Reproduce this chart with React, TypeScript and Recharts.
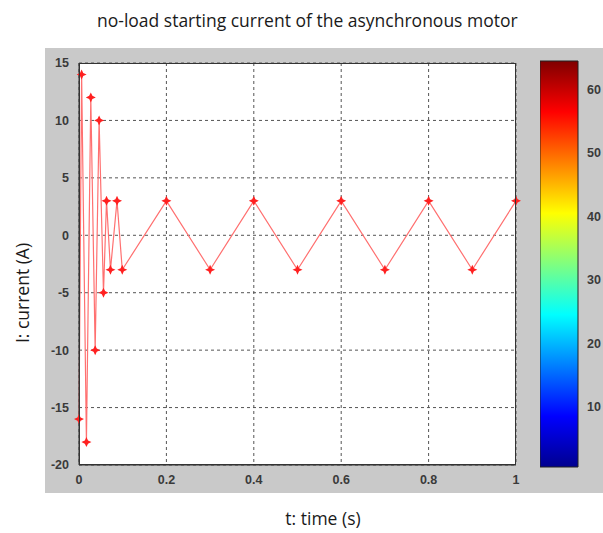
import { LineChart, Line, XAxis, YAxis, CartesianGrid, BarChart, Bar } from 'recharts'

const timeValues = [0, 0.006, 0.017, 0.027, 0.037, 0.046, 0.056, 0.063, 0.072, 0.087, 0.099, 0.2, 0.3, 0.4, 0.5, 0.6, 0.7, 0.8, 0.9, 1.0]
const currentValues = [-16, 14, -18, 12, -10, 10, -5, 3, -3, 3, -3, 3, -3, 3, -3, 3, -3, 3, -3, 3]
const xTicks = [0, 0.2, 0.4, 0.6, 0.8, 1]
const yTicks = [-20, -15, -10, -5, 0, 5, 10, 15]
const colorTicks = [10, 20, 30, 40, 50, 60]
const colorRange = [0.5, 64.5]

const data = timeValues.map((t, i) => ({ t, current: currentValues[i] }))
const colorData = [{ name: 'jet', top: colorRange[1] }]

const tickStyle = { fontSize: 12.5, fontWeight: 'bold', fill: '#3a3a3a', fontFamily: 'Liberation Sans, Arial' }
const hiddenTick = { fontSize: 1, fill: 'transparent' }

const StarDot = (props: any) => {
  const { cx, cy, index } = props
  if (cx == null || cy == null) return null
  const s = 5
  const w = 1.6
  return (
    <path
      key={`dot-${index}`}
      d={`M${cx},${cy - s} L${cx + w},${cy - w} L${cx + s},${cy} L${cx + w},${cy + w} L${cx},${cy + s} L${cx - w},${cy + w} L${cx - s},${cy} L${cx - w},${cy - w} Z`}
      fill="#ff2020"
    />
  )
}

const App = () => {
  return (
    <div style={{ position: 'absolute', left: 0, top: 0, width: 603, height: 533, background: '#fff', fontFamily: 'Open Sans, sans-serif' }}>
      <svg width="0" height="0" style={{ position: 'absolute' }}>
        <defs>
          <linearGradient id="jet" x1="0" y1="1" x2="0" y2="0">
            <stop offset="0%" stopColor="#00008f" />
            <stop offset="12.5%" stopColor="#0000ff" />
            <stop offset="37.5%" stopColor="#00ffff" />
            <stop offset="62.5%" stopColor="#ffff00" />
            <stop offset="87.5%" stopColor="#ff0000" />
            <stop offset="100%" stopColor="#800000" />
          </linearGradient>
        </defs>
      </svg>

      <div style={{ position: 'absolute', left: 45, top: 48, width: 558, height: 445, background: '#c9c9c9' }} />

      <div style={{ position: 'absolute', left: 0, top: 8, width: 603, paddingLeft: 97, boxSizing: 'border-box', fontSize: 17.5, color: '#1a1a1a', whiteSpace: 'nowrap' }}>
        no-load starting current of the asynchronous motor
      </div>

      <div style={{ position: 'absolute', left: 0, top: 0 }}>
        <LineChart width={603} height={533} data={data} margin={{ top: 63, right: 87, bottom: 40, left: 45 }}>
          <CartesianGrid fill="#ffffff" stroke="#555" strokeDasharray="3 3" horizontalValues={yTicks} verticalValues={xTicks} />
          <XAxis
            dataKey="t"
            type="number"
            domain={[0, 1]}
            ticks={xTicks}
            tick={tickStyle}
            tickLine={false}
            tickMargin={4}
            height={28}
            axisLine={{ stroke: '#333' }}
            tickFormatter={(v: number) => `${v}`}
          />
          <YAxis
            type="number"
            domain={[-20, 15]}
            ticks={yTicks}
            tick={tickStyle}
            tickLine={false}
            tickMargin={4}
            width={34}
            axisLine={{ stroke: '#333' }}
            allowDataOverflow
          />
          <Line
            type="linear"
            dataKey="current"
            stroke="#ff7070"
            strokeWidth={1.2}
            dot={<StarDot />}
            activeDot={false}
            isAnimationActive={false}
          />
        </LineChart>
      </div>

      <div style={{ position: 'absolute', left: 79, top: 63, width: 437, height: 402, border: '1px solid #333', boxSizing: 'border-box', pointerEvents: 'none' }} />

      <div style={{ position: 'absolute', left: 540, top: 0 }}>
        <BarChart width={63} height={533} data={colorData} margin={{ top: 61, right: 0, bottom: 66, left: 0 }} barCategoryGap={0}>
          <XAxis dataKey="name" hide />
          <YAxis
            yAxisId="inL"
            orientation="left"
            mirror
            type="number"
            domain={colorRange}
            ticks={colorTicks}
            tick={hiddenTick}
            tickSize={3}
            tickLine={{ stroke: '#111' }}
            width={0}
            axisLine={false}
          />
          <YAxis
            yAxisId="inR"
            orientation="right"
            mirror
            type="number"
            domain={colorRange}
            ticks={colorTicks}
            tick={hiddenTick}
            tickSize={3}
            tickLine={{ stroke: '#111' }}
            width={0}
            axisLine={false}
          />
          <YAxis
            orientation="right"
            type="number"
            domain={colorRange}
            ticks={colorTicks}
            tick={tickStyle}
            tickLine={false}
            tickMargin={3}
            width={25}
            axisLine={false}
          />
          <Bar dataKey="top" fill="url(#jet)" stroke="#222" strokeWidth={1} isAnimationActive={false} />
        </BarChart>
      </div>

      <div style={{ position: 'absolute', left: 22, top: 293, transform: 'translate(-50%, -50%) rotate(-90deg)', fontSize: 17.5, color: '#1a1a1a', whiteSpace: 'nowrap' }}>
        I: current (A)
      </div>

      <div style={{ position: 'absolute', left: 323, top: 518, transform: 'translate(-50%, -50%)', fontSize: 17.5, color: '#1a1a1a', whiteSpace: 'nowrap' }}>
        t: time (s)
      </div>
    </div>
  )
}

export default App
